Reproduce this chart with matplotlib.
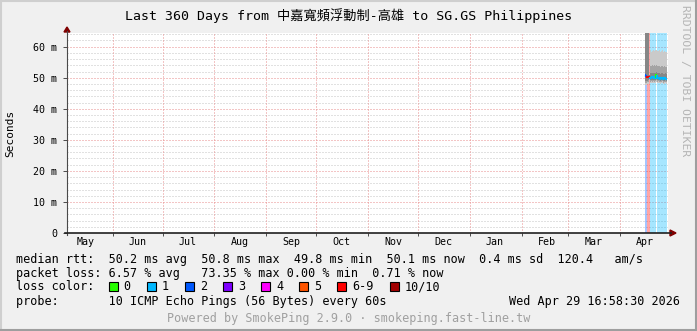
import datetime as dt
import numpy as np
import matplotlib
matplotlib.use("Agg")
import matplotlib.pyplot as plt
import matplotlib.dates as mdates
from matplotlib.patches import Rectangle, Polygon
from matplotlib.lines import Line2D
from matplotlib.collections import LineCollection

# ---------------- data ----------------
title = "Last 360 Days from 中嘉寬頻浮動制-高雄 to SG.GS Philippines"
end_time = dt.datetime(2026, 4, 29, 16, 58, 30)
span_days = 360
y_top_ms = 64.4
y_major_ms = [0, 10, 20, 30, 40, 50, 60]
y_tick_labels = ["0", "10 m", "20 m", "30 m", "40 m", "50 m", "60 m"]
y_minor_ms = [v for v in range(0, 65, 2)]

# 12-hour consolidated samples, starting 2026-04-16 00:00
sample_start = dt.datetime(2026, 4, 16, 0, 0)
sample_hours = 12
nan = np.nan
loss_count = [2, 2, 7, 7, 7, 7, 1, 1, 1, 1, 1, 1, 1, 0, 1, 1, 1, 1, 1, 1, 1, 1, 1, 1, 1, 1]
median_ms = [50.8, 50.6, 50.3, 50.2, 50.1, 50.2, 50.0, 50.0, 50.1, 50.0, 50.0, 50.1, 50.0,
             50.9, 50.0, 49.9, 50.0, 50.0, 49.7, 49.9, 50.0, 49.9, 49.6, 49.8, 49.9, 49.7]
# sorted-ping smoke bands (outer, middle, inner pairs)
p1_ms = [47.6, 47.8, 47.9, 48.0, 48.0, nan, 48.2, 48.3, 48.2, 48.4, 48.3, 48.2, 48.3,
         48.6, 48.2, 48.1, 48.3, 48.2, 48.0, 48.2, 48.3, 48.1, 47.9, 48.1, 48.2, 48.0]
p10_ms = [80.0, 80.0, 80.0, 80.0, 80.0, nan, 58.9, 58.4, 58.7, 59.2, 58.8, 58.5, 58.9,
          59.0, 58.6, 58.3, 58.7, 58.9, 58.4, 58.6, 58.8, 58.5, 58.2, 58.6, 58.4, 58.3]
p2_ms = [48.2, 48.4, 48.5, 48.6, 48.6, nan, 48.7, 48.8, 48.7, 48.8, 48.8, 48.7, 48.8,
         49.2, 48.7, 48.6, 48.8, 48.7, 48.5, 48.7, 48.8, 48.6, 48.4, 48.6, 48.7, 48.5]
p9_ms = [76.0, 76.0, 76.0, 76.0, 76.0, nan, 53.8, 53.7, 54.1, 53.9, 53.8, 54.0, 53.7,
         54.2, 53.8, 53.6, 53.9, 53.8, 53.5, 53.7, 53.9, 53.6, 53.4, 53.7, 53.6, 53.5]
p3_ms = [48.8, 49.0, 49.1, 49.2, 49.2, 49.5, 49.3, 49.3, 49.3, 49.4, 49.3, 49.3, 49.3,
         49.8, 49.3, 49.2, 49.3, 49.3, 49.0, 49.2, 49.3, 49.2, 48.9, 49.1, 49.2, 49.0]
p8_ms = [72.0, 72.0, 72.0, 72.0, 72.0, 51.0, 51.5, 51.5, 51.6, 51.5, 51.5, 51.6, 51.5,
         52.0, 51.5, 51.4, 51.5, 51.5, 51.2, 51.4, 51.5, 51.4, 51.1, 51.3, 51.4, 51.2]

loss_labels = ["0", "1", "2", "3", "4", "5", "6-9", "10/10"]
loss_colors = ["#26ff00", "#00b8ff", "#0059ff", "#7e00ff", "#ff00ff", "#ff5500", "#ff0000", "#a10000"]

legend_lines = [
    "median rtt:  50.2 ms avg  50.8 ms max  49.8 ms min  50.1 ms now  0.4 ms sd  120.4   am/s",
    "packet loss: 6.57 % avg   73.35 % max 0.00 % min  0.71 % now",
    "loss color:",
    "probe:       10 ICMP Echo Pings (56 Bytes) every 60s",
]
stamp = "Wed Apr 29 16:58:30 2026"
footer = "Powered by SmokePing 2.9.0 · smokeping.fast-line.tw"
watermark = "RRDTOOL / TOBI OETIKER"
y_label = "Seconds"

# ---------------- layout helpers ----------------
W, H, DPI = 697, 331, 100
MONO = "DejaVu Sans Mono"
DOT = (0, (1, 2))


def fx(x):
    return x / W


def fy(y):
    return 1 - y / H


def loss_index(n):
    if n <= 5:
        return n
    if n < 10:
        return 6
    return 7


fig = plt.figure(figsize=(W / DPI, H / DPI), dpi=DPI, facecolor="#f0f0f0")

# frame shading
fig.add_artist(Line2D([fx(1), fx(1)], [0, 1], color="#cfcfcf", lw=1.5, transform=fig.transFigure))
fig.add_artist(Line2D([0, 1], [fy(1), fy(1)], color="#cfcfcf", lw=1.5, transform=fig.transFigure))
fig.add_artist(Line2D([fx(W - 1), fx(W - 1)], [0, 1], color="#9e9e9e", lw=1.5, transform=fig.transFigure))
fig.add_artist(Line2D([0, 1], [fy(H - 1), fy(H - 1)], color="#9e9e9e", lw=1.5, transform=fig.transFigure))

L, R, T, B = 67, 668, 33, 233
ax = fig.add_axes([fx(L), fy(B), fx(R - L), (B - T) / H])
ax.set_facecolor("white")
for s in ax.spines.values():
    s.set_visible(False)

start_time = end_time - dt.timedelta(days=span_days)
x0, x1 = mdates.date2num(start_time), mdates.date2num(end_time)
ax.set_xlim(x0, x1)
ax.set_ylim(0, y_top_ms)

# grid
for v in y_minor_ms:
    if v % 10 != 0:
        ax.axhline(v, color="#c4c4c4", lw=0.72, ls=DOT, zorder=1)
for v in y_major_ms[1:]:
    ax.axhline(v, color="#e88c8c", lw=0.72, ls=DOT, zorder=1)

month_lines = [m for m in mdates.MonthLocator().tick_values(start_time, end_time) if x0 < m < x1]
for m in month_lines:
    ax.axvline(m, color="#e88c8c", lw=0.72, ls=DOT, zorder=1)

# data
times = [sample_start + dt.timedelta(hours=sample_hours * i) for i in range(len(median_ms))]
tnum = mdates.date2num(times)
width = sample_hours / 24.0

# loss background
for t, n in zip(tnum, loss_count):
    if n > 0:
        ax.axvspan(t, t + width, color=loss_colors[loss_index(n)], alpha=0.35, lw=0, zorder=2)

# smoke
p1 = np.array(p1_ms); p10 = np.array(p10_ms)
p2 = np.array(p2_ms); p9 = np.array(p9_ms)
p3 = np.array(p3_ms); p8 = np.array(p8_ms)
for lo, hi, c in [(p1, p10, "#cacaca"), (p2, p9, "#a4a4a4"), (p3, p8, "#868686")]:
    ok = ~np.isnan(lo)
    ax.bar(tnum[ok], (hi - lo)[ok], bottom=lo[ok], width=width, align="edge",
           color=c, lw=0, zorder=3)

# median line coloured by loss
segs, cols = [], []
for i, (t, m, n) in enumerate(zip(tnum, median_ms, loss_count)):
    prev = median_ms[i - 1] if i > 0 else m
    segs.append([(t, prev), (t, m), (t + width, m)])
    cols.append(loss_colors[loss_index(n)])
ax.add_collection(LineCollection(segs, colors=cols, linewidths=1.6, zorder=5,
                                 capstyle="butt", joinstyle="miter"))

# ticks
ax.set_yticks(y_major_ms)
ax.set_yticklabels(y_tick_labels, fontfamily=MONO, fontsize=7.2)
ax.tick_params(axis="y", length=3, width=0.7, color="#4a4a4a", pad=4)
ax.set_xticks(month_lines)
ax.tick_params(axis="x", length=2, width=0.7, color="#4a4a4a", labelbottom=False)
label_locs = [v for v in mdates.MonthLocator(bymonthday=16).tick_values(start_time, end_time)
              if x0 < v < x1]
for v in label_locs:
    ax.text(v, -0.045, mdates.num2date(v).strftime("%b"), transform=ax.get_xaxis_transform(),
            ha="center", va="center", fontfamily=MONO, fontsize=7.2)

# axes lines with arrows
fig.add_artist(Line2D([fx(L), fx(L)], [fy(B + 2), fy(T - 2)], color="#4a4a4a", lw=0.8,
                      transform=fig.transFigure))
fig.add_artist(Line2D([fx(L - 2), fx(R + 3)], [fy(B), fy(B)], color="#202020", lw=1.2,
                      transform=fig.transFigure))
fig.add_artist(Polygon([[fx(L - 3), fy(T - 1)], [fx(L + 3), fy(T - 1)], [fx(L), fy(T - 6)]],
                       closed=True, color="#7f0000", transform=fig.transFigure))
fig.add_artist(Polygon([[fx(R + 2), fy(B - 3)], [fx(R + 2), fy(B + 3)], [fx(R + 8), fy(B)]],
                       closed=True, color="#7f0000", transform=fig.transFigure))

# texts
fig.text(fx(348.5), fy(16), title, ha="center", va="center", fontsize=9.5,
         family=[MONO, "Noto Sans CJK TC"])
fig.text(fx(10), fy(133), y_label, rotation=90, ha="center", va="center",
         fontfamily=MONO, fontsize=8)
fig.text(fx(685), fy(5), watermark, rotation=270, ha="center", va="top",
         fontfamily=MONO, fontsize=8.2, color="#b4b4b4")

line_y = [259.3, 273.3, 286.7, 301.0]
for s, yy in zip(legend_lines, line_y):
    fig.text(fx(16), fy(yy), s, ha="left", va="center", fontfamily=MONO, fontsize=8.5)
fig.text(fx(680), fy(line_y[3]), stamp, ha="right", va="center", fontfamily=MONO, fontsize=8.5)
fig.text(fx(348.5), fy(318.3), footer, ha="center", va="center", fontfamily=MONO,
         fontsize=8.5, color="#a0a0a0")

# loss colour swatches
char_w = 7.13
bx = 108.5
for lab, col in zip(loss_labels, loss_colors):
    fig.add_artist(Rectangle((fx(bx), fy(line_y[2] + 4.5)), 9 / W, 9 / H, facecolor=col,
                             edgecolor="black", lw=0.8, transform=fig.transFigure))
    fig.text(fx(bx + 15), fy(line_y[2]), lab, ha="left", va="center", fontfamily=MONO, fontsize=8.5)
    bx = bx + 15 + len(lab) * char_w + 16

fig.savefig("out.png", dpi=DPI, facecolor=fig.get_facecolor())
